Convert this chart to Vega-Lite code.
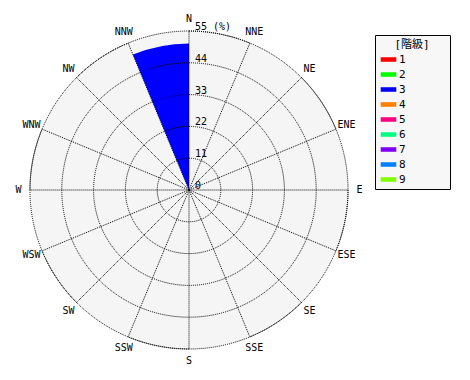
{
  "$schema": "https://vega.github.io/schema/vega-lite/v6.json",
  "width": 378,
  "height": 380,
  "autosize": "none",
  "padding": {"left": 0, "top": 0, "right": 92, "bottom": 0},
  "background": "white",
  "config": {"view": {"stroke": null}},
  "datasets": {
    "dirs": [
      {"dir": "N", "deg": 0, "deg2": 22.5},
      {"dir": "NNE", "deg": 22.5, "deg2": 45},
      {"dir": "NE", "deg": 45, "deg2": 67.5},
      {"dir": "ENE", "deg": 67.5, "deg2": 90},
      {"dir": "E", "deg": 90, "deg2": 112.5},
      {"dir": "ESE", "deg": 112.5, "deg2": 135},
      {"dir": "SE", "deg": 135, "deg2": 157.5},
      {"dir": "SSE", "deg": 157.5, "deg2": 180},
      {"dir": "S", "deg": 180, "deg2": 202.5},
      {"dir": "SSW", "deg": 202.5, "deg2": 225},
      {"dir": "SW", "deg": 225, "deg2": 247.5},
      {"dir": "WSW", "deg": 247.5, "deg2": 270},
      {"dir": "W", "deg": 270, "deg2": 292.5},
      {"dir": "WNW", "deg": 292.5, "deg2": 315},
      {"dir": "NW", "deg": 315, "deg2": 337.5},
      {"dir": "NNW", "deg": 337.5, "deg2": 360}
    ],
    "rings": [
      {"r": 0, "label": "0"},
      {"r": 11, "label": "11"},
      {"r": 22, "label": "22"},
      {"r": 33, "label": "33"},
      {"r": 44, "label": "44"},
      {"r": 55, "label": "55 (%)"}
    ],
    "bars": [
      {"dir": "NNW", "deg": 337.5, "deg2": 360, "pct": 50.7, "class": "3"}
    ]
  },
  "layer": [
    {
      "data": {"name": "rings"},
      "transform": [{"filter": "datum.r == 55"}],
      "mark": {"type": "arc", "fill": "#f5f5f5", "theta": 0, "theta2": 6.283185307179586},
      "encoding": {
        "radius": {"field": "r", "type": "quantitative", "stack": null, "scale": {"type": "linear", "domain": [0, 55], "range": [0, 159], "zero": true}}
      }
    },
    {
      "data": {"name": "bars"},
      "mark": {"type": "arc"},
      "encoding": {
        "theta": {"field": "deg", "type": "quantitative", "stack": null, "scale": {"type": "linear", "domain": [0, 360], "range": [0, 6.283185307179586]}},
        "theta2": {"field": "deg2"},
        "radius": {"field": "pct", "type": "quantitative", "stack": null, "scale": {"type": "linear", "domain": [0, 55], "range": [0, 159], "zero": true}},
        "color": {
          "field": "class",
          "type": "nominal",
          "scale": {
            "domain": ["1", "2", "3", "4", "5", "6", "7", "8", "9"],
            "range": ["#ff0000", "#00ff00", "#0000ff", "#ff8000", "#ff0080", "#00ff80", "#8000ff", "#0080ff", "#80ff00"]
          },
          "legend": {
            "orient": "none",
            "legendX": 375,
            "legendY": 35,
            "title": "[階級]",
            "titleFont": "DejaVu Sans Mono, Noto Sans CJK JP",
            "titleFontSize": 11,
            "titleFontWeight": "normal",
            "titleColor": "black",
            "titleAnchor": "middle",
            "titlePadding": 3,
            "labelFont": "DejaVu Sans Mono",
            "labelFontSize": 11,
            "labelColor": "black",
            "labelExpr": "datum.label + '\u2800\u2800\u2800\u2800\u2800'",
            "symbolType": "M-1.2,-0.35H1.2V0.35H-1.2Z",
            "symbolSize": 169,
            "symbolStrokeWidth": 0,
            "symbolOffset": 3,
            "rowPadding": 3,
            "padding": 4,
            "strokeColor": "black",
            "fillColor": "#f7f7f7"
          }
        }
      }
    },
    {
      "data": {"name": "rings"},
      "transform": [{"filter": "datum.r > 0"}],
      "mark": {"type": "arc", "filled": false, "stroke": "black", "strokeWidth": 1, "strokeDash": [1, 1], "theta": 0, "theta2": 6.283185307179586},
      "encoding": {
        "radius": {"field": "r", "type": "quantitative", "stack": null, "scale": {"type": "linear", "domain": [0, 55], "range": [0, 159], "zero": true}}
      }
    },
    {
      "data": {"name": "dirs"},
      "transform": [{"filter": {"field": "dir", "oneOf": ["N", "NE", "E", "SE", "S", "SW", "W", "NW"]}}],
      "mark": {"type": "arc", "filled": false, "stroke": "black", "strokeWidth": 1, "strokeDash": [1, 1]},
      "encoding": {
        "theta": {"field": "deg", "type": "quantitative", "stack": null, "scale": {"type": "linear", "domain": [0, 360], "range": [0, 6.283185307179586]}},
        "theta2": {"field": "deg2"},
        "radius": {"datum": 55, "type": "quantitative", "scale": {"type": "linear", "domain": [0, 55], "range": [0, 159], "zero": true}}
      }
    },
    {
      "data": {"name": "dirs"},
      "mark": {"type": "text", "font": "DejaVu Sans Mono", "fontSize": 10, "align": "center", "baseline": "middle", "color": "black"},
      "encoding": {
        "theta": {"field": "deg", "type": "quantitative", "stack": null, "scale": {"type": "linear", "domain": [0, 360], "range": [0, 6.283185307179586]}},
        "radius": {"datum": 59, "type": "quantitative", "scale": {"type": "linear", "domain": [0, 55], "range": [0, 159], "zero": true}},
        "text": {"field": "dir"}
      }
    },
    {
      "data": {"name": "rings"},
      "mark": {"type": "text", "font": "DejaVu Sans Mono", "fontSize": 10, "align": "left", "baseline": "bottom", "dx": 6, "dy": 1, "color": "black"},
      "encoding": {
        "theta": {"datum": 0, "type": "quantitative", "scale": {"type": "linear", "domain": [0, 360], "range": [0, 6.283185307179586]}},
        "radius": {"field": "r", "type": "quantitative", "stack": null, "scale": {"type": "linear", "domain": [0, 55], "range": [0, 159], "zero": true}},
        "text": {"field": "label"}
      }
    }
  ]
}
